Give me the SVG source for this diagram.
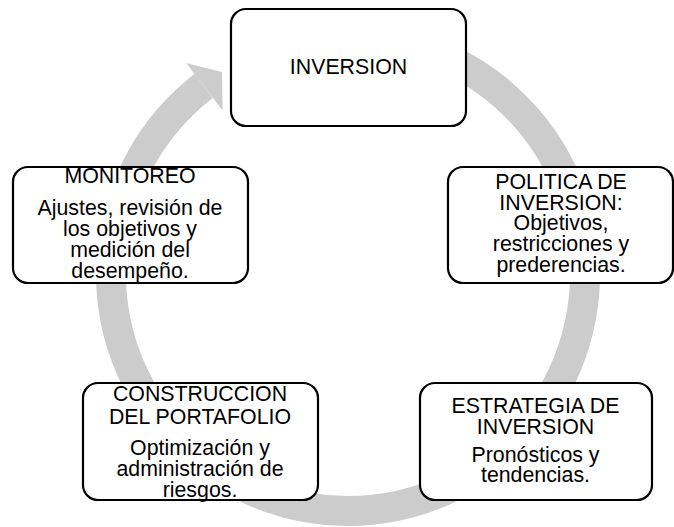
<svg xmlns="http://www.w3.org/2000/svg" width="674" height="527" viewBox="0 0 674 527">
<style>
.box{fill:#ffffff;stroke:#000000;stroke-width:2.2}
.t{font-family:"Liberation Sans",Arial,sans-serif;font-size:21.33px;fill:#000000;text-anchor:middle}
.ring{fill:none;stroke:#cccccc;stroke-width:30}
</style>
<rect width="674" height="527" fill="#ffffff"/>
<g id="connectors">
<path class="ring" d="M 448.2 59.2 A 237 237 0 1 1 203.7 86.0"/>
<polygon points="186.1,63 222,72 222.6,110.6 203.7,86" fill="#cccccc"/>
</g>
<g id="node-inversion">
<rect class="box" x="231" y="9" width="235" height="117" rx="15"/>
<text class="t" x="348.5" y="74">INVERSION</text>
</g>
<g id="node-politica">
<rect class="box" x="448" y="167" width="225" height="116" rx="15"/>
<text class="t" x="561" y="188.5">POLITICA DE</text>
<text class="t" x="561" y="209.5">INVERSION:</text>
<text class="t" x="561" y="230">Objetivos,</text>
<text class="t" x="561" y="251">restricciones y</text>
<text class="t" x="561" y="272">prederencias.</text>
</g>
<g id="node-estrategia">
<rect class="box" x="420" y="383" width="232" height="117" rx="15"/>
<text class="t" x="535.5" y="412.5">ESTRATEGIA DE</text>
<text class="t" x="535.5" y="433.5">INVERSION</text>
<text class="t" x="535.5" y="462">Pronósticos y</text>
<text class="t" x="535.5" y="482">tendencias.</text>
</g>
<g id="node-construccion">
<rect class="box" x="83" y="383" width="235" height="117" rx="15"/>
<text class="t" x="200" y="401">CONSTRUCCION</text>
<text class="t" x="200" y="423.5">DEL PORTAFOLIO</text>
<text class="t" x="200" y="455">Optimización y</text>
<text class="t" x="200" y="476">administración de</text>
<text class="t" x="200" y="497">riesgos.</text>
</g>
<g id="node-monitoreo">
<rect class="box" x="13" y="167" width="235" height="116" rx="15"/>
<text class="t" x="130" y="182.5">MONITOREO</text>
<text class="t" x="130" y="215">Ajustes, revisión de</text>
<text class="t" x="130" y="236">los objetivos y</text>
<text class="t" x="130" y="257">medición del</text>
<text class="t" x="130" y="278">desempeño.</text>
</g>
</svg>
